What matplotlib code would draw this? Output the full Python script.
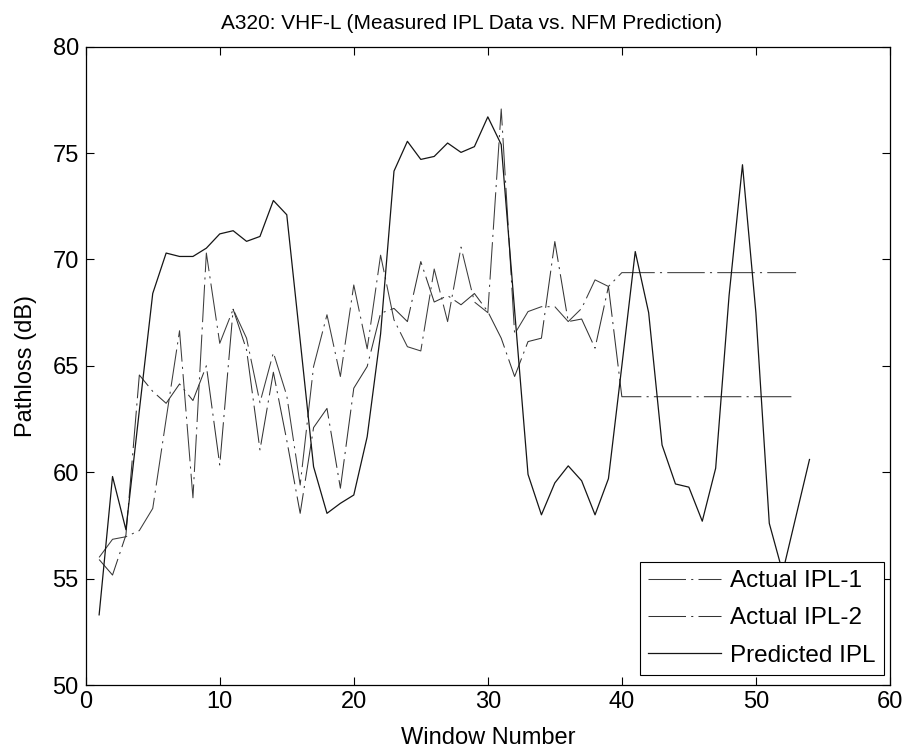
import matplotlib
matplotlib.use("Agg")
import matplotlib.pyplot as plt

# window numbers
win_pred = list(range(1, 55))
win_act = list(range(1, 41)) + [53]

# measured pathloss (dB)
ipl_1 = [56.0, 56.85, 56.97, 57.26, 58.3, 62.5, 66.65, 58.8, 70.3, 66.06,
         67.66, 66.3, 63.27, 65.62, 63.6, 59.4, 64.97, 67.4, 64.5, 68.8,
         65.8, 70.2, 67.16, 65.9, 65.7, 69.55, 67.08, 70.58, 68.0, 67.5,
         77.07, 66.5, 67.55, 67.78, 67.78, 67.08, 67.7, 69.04, 68.73, 69.38,
         69.38]
ipl_2 = [55.9, 55.17, 57.05, 64.57, 63.8, 63.24, 64.15, 63.37, 65.0, 60.34,
         67.66, 65.75, 61.05, 64.7, 61.5, 58.07, 62.1, 63.0, 59.25, 63.95,
         64.97, 67.47, 67.7, 67.08, 69.9, 68.0, 68.3, 67.87, 68.4, 67.55,
         66.3, 64.5, 66.14, 66.3, 70.84, 67.08, 67.2, 65.83, 68.73, 63.55,
         63.55]

# NFM prediction (dB)
pred = [53.3, 59.8, 57.3, 62.9, 68.4, 70.3, 70.14, 70.14, 70.53, 71.2,
        71.35, 70.85, 71.08, 72.77, 72.1, 66.2, 60.26, 58.07, 58.54, 58.93,
        61.67, 66.5, 74.15, 75.55, 74.7, 74.84, 75.47, 75.03, 75.3, 76.7,
        75.4, 67.6, 59.9, 58.0, 59.5, 60.3, 59.6, 58.0, 59.7, 65.0,
        70.37, 67.5, 61.28, 59.45, 59.3, 57.7, 60.19, 68.3, 74.45, 67.5,
        57.6, 55.3, 57.95, 60.6]

plt.rcParams["font.family"] = ["Liberation Sans", "DejaVu Sans"]

fig = plt.figure(figsize=(9.09, 7.52), dpi=100)
ax = fig.add_axes([0.0943, 0.089, 0.8847, 0.849])

dashdot = (0, (36, 5, 2, 5))
ax.plot(win_act, ipl_1, color="#3c3c3c", lw=0.75, ls=dashdot, label="Actual IPL-1")
ax.plot(win_act, ipl_2, color="#333333", lw=0.75, ls=dashdot, label="Actual IPL-2")
ax.plot(win_pred, pred, color="#151515", lw=0.9, label="Predicted IPL")

ax.set_xlim(0, 60)
ax.set_ylim(50, 80)
ax.set_xticks(range(0, 61, 10))
ax.set_yticks(range(50, 81, 5))
ax.tick_params(direction="in", top=True, right=True, length=6, width=0.8,
               labelsize=17)
ax.tick_params(axis="x", pad=4)
ax.tick_params(axis="y", pad=5)
for s in ax.spines.values():
    s.set_linewidth(0.9)

ax.set_title("A320: VHF-L (Measured IPL Data vs. NFM Prediction)", fontsize=15,
             pad=13, x=0.48)
ax.set_xlabel("Window Number", fontsize=17, labelpad=10)
ax.set_ylabel("Pathloss (dB)", fontsize=17, labelpad=11)

leg = ax.legend(loc="lower right", bbox_to_anchor=(0.9925, 0.0157), fontsize=17.5,
                fancybox=False, framealpha=1, edgecolor="black",
                handlelength=3.0, handletextpad=0.35, borderpad=0.35,
                labelspacing=0.62, borderaxespad=0)
leg.get_frame().set_linewidth(0.8)

fig.savefig("out.png", dpi=100)
